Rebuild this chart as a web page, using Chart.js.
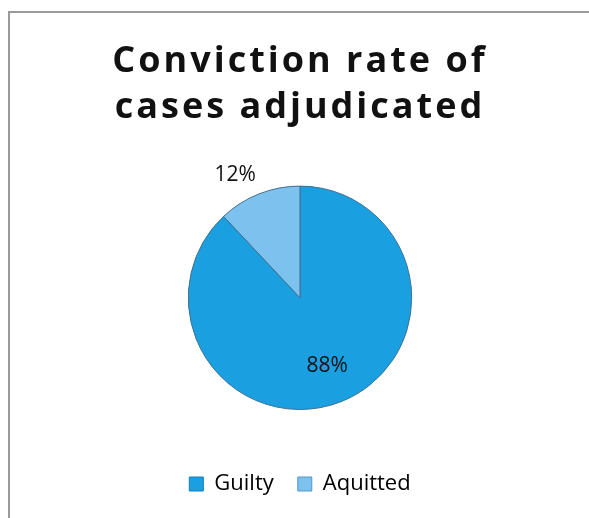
<!DOCTYPE html>
<html lang="en">
<head>
    <meta charset="UTF-8">
    <title>Conviction rate</title>
    <script src="https://cdn.jsdelivr.net/npm/chart.js"></script>
    <style>
        html, body { margin: 0; padding: 0; background: #fff; overflow: hidden; }
        #box {
            position: absolute; left: 8px; top: 11px;
            width: 580px; height: 520px;
            border-left: 2px solid #9a9a9a; border-top: 2px solid #9a9a9a;
        }
    </style>
</head>
<body>
    <div id="box"><canvas id="pieChart"></canvas></div>

    <script>
        // datos
        const categories = ["Guilty", "Aquitted"];
        const values = [88, 12];
        const titleLines = ["Conviction rate of", "cases adjudicated"];

        const baseColors = ["#1aa0e1", "#7dc2ef"];
        const edgeColors = ["#137fb8", "#5596c8"];

        // gradiente radial para cada porcion
        function sliceFill(ctx) {
            const chart = ctx.chart;
            const arc = chart.getDatasetMeta(0).data[ctx.dataIndex];
            if (!arc || !arc.outerRadius) return baseColors[ctx.dataIndex];
            const g = chart.ctx.createRadialGradient(arc.x, arc.y, 0, arc.x, arc.y, arc.outerRadius);
            g.addColorStop(0, baseColors[ctx.dataIndex]);
            g.addColorStop(0.92, baseColors[ctx.dataIndex]);
            g.addColorStop(1, edgeColors[ctx.dataIndex]);
            return g;
        }

        // espaciado de letras del titulo
        const titleSpacing = {
            id: "titleSpacing",
            beforeDraw(chart) {
                const tb = chart.titleBlock;
                if (!tb || tb._spaced) return;
                const orig = tb.draw;
                tb.draw = function() {
                    chart.ctx.save();
                    chart.ctx.letterSpacing = "3px";
                    orig.apply(this, arguments);
                    chart.ctx.restore();
                };
                tb._spaced = true;
            }
        };

        // etiquetas de porcentaje
        const pctLabels = {
            id: "pctLabels",
            afterDatasetsDraw(chart) {
                const ctx = chart.ctx;
                const total = values.reduce((a, b) => a + b, 0);
                ctx.save();
                ctx.font = "21px 'Open Sans'";
                ctx.fillStyle = "#111";
                ctx.textAlign = "center";
                ctx.textBaseline = "middle";
                chart.getDatasetMeta(0).data.forEach((arc, i) => {
                    const mid = (arc.startAngle + arc.endAngle) / 2;
                    const pct = values[i] / total;
                    const txt = Math.round(pct * 100) + "%";
                    const cx = Math.cos(mid), cy = Math.sin(mid);
                    let x, y;
                    if (pct < 0.2) {
                        // fuera: la esquina mas cercana de la etiqueta toca el anillo
                        const w = ctx.measureText(txt).width, h = 22;
                        const r = arc.outerRadius + 8;
                        x = arc.x + cx * r + Math.sign(cx) * w / 2;
                        y = arc.y + cy * r + Math.sign(cy) * h / 2;
                    } else {
                        const r = arc.outerRadius * 0.66;
                        x = arc.x + cx * r;
                        y = arc.y + cy * r;
                    }
                    ctx.fillText(txt, x, y);
                });
                ctx.restore();
            }
        };

        new Chart(document.getElementById("pieChart").getContext("2d"), {
            type: "pie",
            data: {
                labels: categories,
                datasets: [{
                    data: values,
                    backgroundColor: sliceFill,
                    borderColor: "#3f6f90",
                    borderWidth: 1
                }]
            },
            options: {
                responsive: true,
                maintainAspectRatio: false,
                animation: false,
                layout: { padding: { top: 10, bottom: 28, left: 0, right: 0 } },
                plugins: {
                    title: {
                        display: true,
                        text: titleLines,
                        color: "#111",
                        font: { family: "'Open Sans'", size: 36, weight: "bold", lineHeight: 1.3 },
                        padding: { top: 15, bottom: 54 }
                    },
                    legend: {
                        position: "bottom",
                        title: {
                            display: true,
                            text: " ",
                            font: { size: 10, lineHeight: 1 },
                            padding: { top: 29, bottom: 0 }
                        },
                        labels: {
                            color: "#000",
                            font: { family: "'Open Sans'", size: 22 },
                            boxWidth: 14,
                            boxHeight: 14,
                            padding: 24,
                            generateLabels(chart) {
                                return categories.map((c, i) => ({
                                    text: c,
                                    fillStyle: baseColors[i],
                                    strokeStyle: edgeColors[i],
                                    fontColor: "#000",
                                    lineWidth: 1,
                                    index: i
                                }));
                            }
                        }
                    },
                    tooltip: { enabled: false }
                }
            },
            plugins: [titleSpacing, pctLabels]
        });
    </script>
</body>
</html>
